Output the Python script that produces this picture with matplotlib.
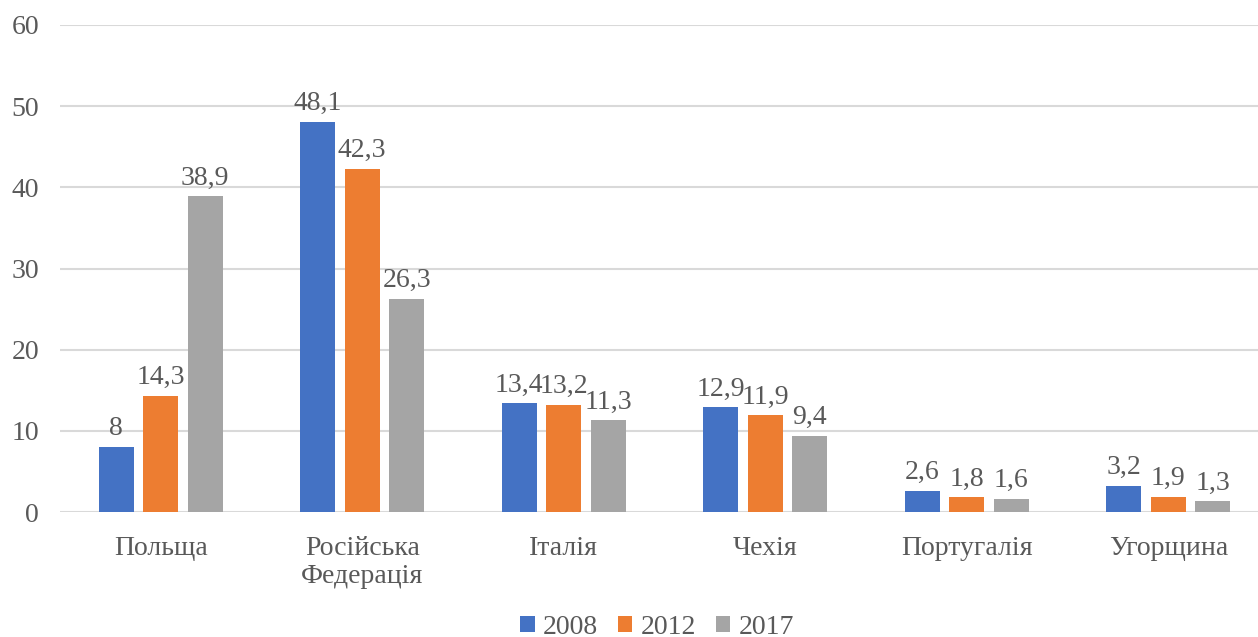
import matplotlib.pyplot as plt
import numpy as np

plt.rcParams['font.family'] = ['Liberation Serif', 'DejaVu Serif']

countries = ['Польща', 'Російська\nФедерація', 'Італія', 'Чехія', 'Португалія', 'Угорщина']
years = ['2008', '2012', '2017']
v2008 = [8, 48.1, 13.4, 12.9, 2.6, 3.2]
v2012 = [14.3, 42.3, 13.2, 11.9, 1.8, 1.9]
v2017 = [38.9, 26.3, 11.3, 9.4, 1.6, 1.3]
colors = ['#4472c4', '#ed7d31', '#a5a5a5']
txt = '#595959'

fig = plt.figure(figsize=(12.58, 6.37), dpi=100)
ax = fig.add_axes([60/1258, 1-512/637, 1209/1258, (512-25)/637])

x = np.arange(len(countries))
step = 0.2207
w = 0.174
for i, vals in enumerate([v2008, v2012, v2017]):
    pos = x + (i-1)*step
    ax.bar(pos, vals, w, color=colors[i], label=years[i], zorder=3)
    for p, v in zip(pos, vals):
        ax.text(p, v + 0.7, ('%g' % v).replace('.', ','), ha='center', va='bottom',
                fontsize=20, color=txt)

ax.set_xlim(-0.5, 5.5)
ax.set_ylim(0, 60)
ax.set_yticks(range(0, 61, 10))
ax.set_xticks(x)
ax.set_xticklabels(countries, linespacing=1.2)
ax.tick_params(length=0, labelsize=20, colors=txt)
ax.tick_params(axis='y', pad=15)
ax.tick_params(axis='x', pad=17)
ax.grid(axis='y', color='#d9d9d9', lw=1.5, zorder=0)
for s in ax.spines.values():
    s.set_visible(False)

fig.legend(loc='center', bbox_to_anchor=(657/1258, 1-627/637), ncol=3, frameon=False,
           fontsize=20, handlelength=0.52, handleheight=0.52, handletextpad=0.29,
           columnspacing=0.72, labelcolor=txt)

fig.savefig('out.png', dpi=100)
